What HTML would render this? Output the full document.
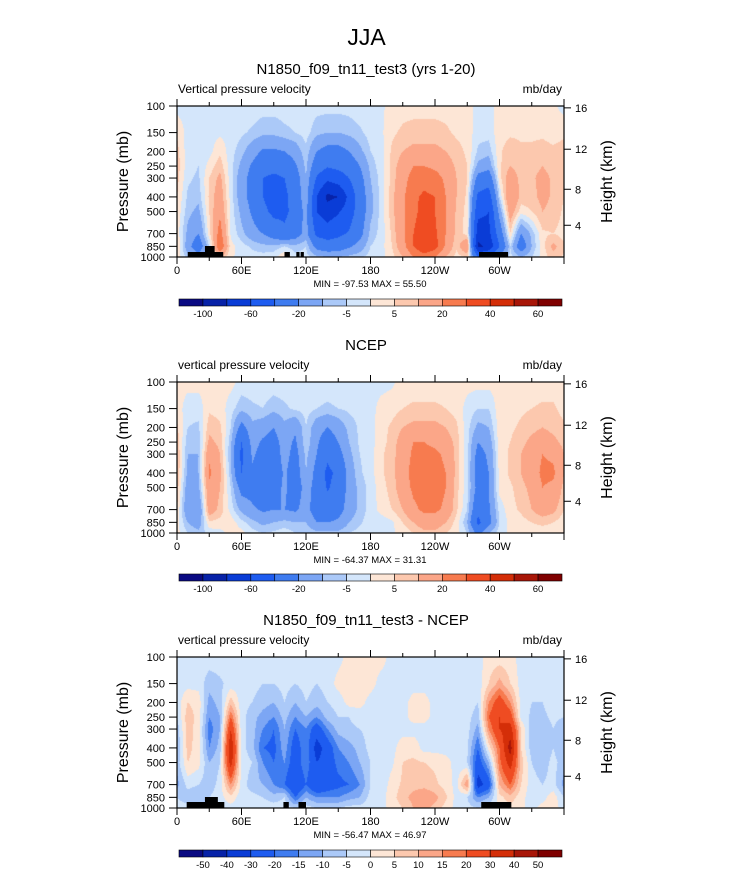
<!DOCTYPE html>
<html><head><meta charset="utf-8"><style>
body{margin:0;background:#fff;width:733px;height:873px;position:relative;overflow:hidden;font-family:"Liberation Sans",sans-serif;color:#000}
.t{position:absolute;white-space:nowrap}
canvas{position:absolute}
</style></head><body>
<div class="t" style="left:0;width:733px;text-align:center;top:24px;font-size:23px">JJA</div>
<svg id="svg" width="733" height="873" style="position:absolute;left:0;top:0"></svg>
<script>
const lons=[0,10,20,30,40,50,60,70,80,90,100,110,120,130,140,150,160,170,180,190,200,210,220,230,240,250,260,270,280,290,300,310,320,330,340,350];
const plevs=[100,150,200,250,300,400,500,700,850,1000];
const xTickLabels=["0","60E","120E","180","120W","60W"];
const heightTicks=[16,12,8,4];
const levels1=[-100,-80,-60,-40,-20,-10,-5,0,5,10,20,30,40,50,60];
const cbLabels1=["-100","","-60","","-20","","-5","","5","","20","","40","","60"];
const levels3=[-50,-40,-30,-20,-15,-10,-5,0,5,10,15,20,30,40,50];
const cbLabels3=["-50","-40","-30","-20","-15","-10","-5","0","5","10","15","20","30","40","50"];
const colors=["#0a0a82","#0722a8","#0a3cd6","#1e5cf0","#3f7cf0","#7ca6f4","#abc9f8","#d4e6fb","#fde6d6","#fcc8ae","#fba688","#f77b4f","#ef4c22","#d42e08","#a81608","#7f0000"];
const model=[
[-2,-2,-2,-2,-2,-2,-2,-2,-3,-3,-3,-3,-2,-3,-3,-3,-3,-2,-2,-1,2,3,3,3,3,3,2,2,-2,-2,2,2,2,2,2,1],
[4,-2,-2,-2,-1,-2,-4,-6,-8,-8,-6,-5,-3,-8,-10,-10,-8,-6,-3,-1,4,6,7,7,7,6,4,3,-3,-3,3,4,4,4,4,3],
[7,-3,-4,-2,4,-3,-8,-15,-22,-22,-20,-15,-6,-20,-25,-25,-20,-12,-5,-2,6,10,12,12,12,10,7,4,-6,-8,4,8,6,6,7,6],
[8,-3,-5,2,8,-3,-12,-22,-30,-32,-30,-22,-8,-30,-38,-35,-30,-20,-8,-2,7,14,20,20,18,14,9,5,-12,-15,4,10,7,8,10,8],
[7,-4,-6,5,12,-3,-15,-25,-40,-45,-40,-28,-10,-42,-55,-50,-40,-25,-10,-3,7,16,24,26,24,18,10,5,-25,-30,3,15,8,9,12,9],
[5,-6,-8,6,15,-2,-15,-25,-40,-50,-45,-30,-12,-60,-85,-80,-55,-30,-12,-3,8,18,28,32,30,20,10,4,-45,-50,-5,20,8,8,12,9],
[4,-8,-12,5,18,-2,-12,-22,-35,-45,-45,-32,-15,-60,-70,-62,-50,-30,-12,-3,8,18,28,33,30,20,9,3,-55,-60,-15,15,2,5,10,8],
[3,-12,-20,3,25,-1,-8,-15,-20,-28,-35,-28,-15,-45,-50,-45,-38,-25,-8,-3,6,18,30,35,32,20,8,3,-70,-65,-30,5,-20,-8,4,5],
[6,-15,-30,-5,30,2,-3,-6,-8,-8,-5,-8,-5,-25,-30,-28,-22,-15,-5,-2,5,16,30,40,35,18,6,20,-85,-75,-40,-5,-30,-10,3,12],
[4,-8,-15,-5,10,1,-2,-3,-3,-2,5,-3,-3,-8,-10,-10,-8,-6,-3,-2,3,10,20,25,20,10,3,5,-40,-35,-15,-3,-10,-5,2,8]];
const ncep=[
[2,2,2,2,2,2,-2,-2,-2,-2,-2,-2,-2,-2,-2,-2,-2,-2,-2,-2,-1,2,2,2,2,2,2,2,2,2,2,2,2,2,2,2],
[3,-3,-3,4,3,-3,-8,-6,-5,-8,-6,-4,-3,-5,-6,-5,-4,-3,-2,2,3,5,6,6,6,5,3,-2,-5,-5,3,3,4,5,6,6],
[6,-5,-6,8,6,-5,-25,-12,-15,-20,-12,-18,-5,-15,-20,-15,-8,-4,-2,3,6,10,12,12,12,10,6,-3,-12,-10,3,4,6,8,10,8],
[8,-8,-8,12,8,-8,-40,-15,-22,-25,-15,-22,-5,-18,-28,-20,-10,-4,-2,3,7,14,20,20,18,14,8,-3,-20,-15,3,5,8,12,15,12],
[10,-10,-10,18,10,-10,-45,-18,-25,-28,-15,-25,-8,-20,-35,-25,-12,-5,-2,4,8,14,22,22,22,18,8,-3,-25,-18,2,6,10,15,20,18],
[10,-12,-10,22,12,-8,-40,-22,-28,-30,-18,-28,-10,-25,-45,-35,-15,-6,-2,4,8,15,24,25,25,20,8,-3,-28,-20,2,6,10,15,22,22],
[8,-15,-12,18,10,-5,-25,-25,-28,-25,-18,-28,-15,-25,-42,-32,-15,-8,-3,3,7,15,22,24,25,20,7,-3,-25,-20,2,4,8,12,20,18],
[5,-18,-20,15,8,-2,-12,-18,-22,-20,-20,-22,-15,-28,-30,-25,-15,-8,-3,2,5,10,18,22,22,18,6,-5,-35,-22,-3,3,6,10,15,12],
[2,-10,-15,4,3,3,-3,-8,-12,-10,-8,-10,-10,-20,-20,-18,-10,-6,-2,-3,-1,5,10,15,15,10,3,-10,-45,-25,-5,2,3,5,6,5],
[2,-5,-8,-3,-2,2,2,-3,-5,-4,-2,-5,-5,-8,-8,-8,-5,-3,-2,-2,-1,2,5,8,8,5,2,-5,-25,-10,-2,1,2,3,3,3]];
const diff=[
[-2,-2,-2,-2,-2,-2,-2,-2,-2,-2,-2,-2,-2,-2,-2,-2,2,2,2,2,-2,-2,-2,-2,-2,-2,-2,-2,-2,2,2,2,-2,-2,-2,-2],
[-3,-2,-2,-8,-6,-3,-2,-3,-5,-5,-3,-5,-3,-5,-3,2,3,3,2,-2,-2,-2,-2,-2,-2,-2,-2,-2,-3,5,12,5,-2,-4,-4,-3],
[-3,5,3,-12,-8,8,-3,-5,-8,-10,-5,-10,-5,-8,-5,-3,2,2,-2,-3,-2,-2,2,2,-2,-2,-2,-2,-5,15,25,15,-2,-5,-5,-3],
[-5,8,3,-15,-10,20,-3,-8,-12,-15,-8,-15,-10,-15,-8,-5,-5,-3,-3,-3,-2,-2,2,2,-2,-2,-2,-3,-8,20,30,25,-2,-6,-6,-4],
[-8,8,2,-18,-10,30,-3,-8,-15,-20,-10,-20,-15,-25,-15,-8,-6,-5,-3,-3,-2,-2,-2,-2,-2,-2,-2,-3,-12,15,30,35,5,-8,-8,-5],
[-10,7,2,-15,-8,40,-3,-8,-20,-22,-12,-25,-15,-35,-25,-15,-12,-8,-3,-3,-2,3,3,-2,-2,-2,-2,-4,-20,2,20,45,5,-8,-10,-5],
[-8,5,2,-10,-5,35,-2,-5,-15,-20,-15,-25,-15,-30,-25,-18,-15,-10,-5,-3,-1,5,6,5,4,2,-2,-5,-25,-10,18,35,8,-5,-8,-3],
[-12,-3,-5,-8,-3,15,-2,-8,-10,-15,-20,-30,-20,-30,-25,-22,-20,-15,-5,-3,2,6,8,8,6,3,-2,15,-35,-25,10,20,5,-3,-5,-3],
[-5,-8,-10,-5,-2,3,-3,-3,-5,-8,-5,-20,-10,-15,-15,-15,-12,-10,-3,-2,3,8,12,15,12,6,-2,-5,-15,-10,3,8,2,-3,-2,3],
[-3,-3,-3,-2,-2,-2,-2,-2,-2,-2,-2,-5,-3,-5,-5,-5,-3,-3,-2,-2,2,5,10,12,8,3,-2,-3,-5,-3,2,3,1,-2,2,3]];

const X0=177,PW=387,PH=151;
const NS='http://www.w3.org/2000/svg';
const svg=document.getElementById('svg');
function el(tag,attrs,parent){const e=document.createElementNS(NS,tag);for(const k in attrs)e.setAttribute(k,attrs[k]);(parent||svg).appendChild(e);return e;}
function txt(x,y,s,size,anchor,parent){const t=el('text',{x:x,y:y,'font-size':size,'text-anchor':anchor||'middle','font-family':'Liberation Sans, sans-serif'},parent);t.textContent=s;return t;}
const xScale=lon=>X0+lon/360*PW;
const yScale=(p,top)=>top+Math.log(p/100)/Math.log(10)*PH;
function kmToP(h){return h<=11?1013.25*Math.pow(1-2.2558e-5*h*1000,5.2559):226.32*Math.exp(-(h-11)/6.3416);}
const lp=plevs.map(p=>Math.log(p));
function colorFor(v,lev){let i=0;while(i<lev.length&&v>=lev[i])i++;return colors[i];}
function sample(data,lon,p){
  let cf=lon/10;const i0=Math.floor(cf)%36,i1=(i0+1)%36,fx=cf-Math.floor(cf);
  const l=Math.log(p);let j=0;while(j<plevs.length-2&&l>lp[j+1])j++;
  let fy=(l-lp[j])/(lp[j+1]-lp[j]);fy=Math.max(0,Math.min(1,fy));
  const a=data[j][i0]*(1-fx)+data[j][i1]*fx,b=data[j+1][i0]*(1-fx)+data[j+1][i1]*fx;
  return a*(1-fy)+b*fy;
}
function panel(top,title,lt,data,lev,cbl,mm,land,cbTop,name){
  const g=el('g',{});
  
  
  const c=document.createElement('canvas');c.width=PW;c.height=PH;c.style.left=X0+'px';c.style.top=top+'px';
  
  
  document.body.insertBefore(c,svg);
  const ctx=c.getContext('2d');
  for(let py=0;py<PH;py++){const p=100*Math.pow(10,(py+0.5)/PH);
    for(let px=0;px<PW;px++){const lon=(px+0.5)/PW*360;ctx.fillStyle=colorFor(sample(data,lon,p),lev);ctx.fillRect(px,py,1,1);}}
  for(const r of land){const b=el('rect',{x:xScale(r[0]),y:top+PH-r[2],width:xScale(r[1])-xScale(r[0]),height:r[2],fill:'#000'},g);
    }
  const fr=el('rect',{x:X0,y:top,width:PW,height:PH,fill:'none',stroke:'#000','stroke-width':1.2},g);
  
  const t=txt(366,top-32,title,15,'middle',g);
  const l=txt(X0+1,top-13,lt,12,'start',g);
  const u=txt(X0+PW-2,top-13,'mb/day',12,'end',g);
  plevs.forEach(p=>{const y=yScale(p,top);el('line',{x1:X0-8,x2:X0,y1:y,y2:y,stroke:'#000'},g);
    const tl=txt(X0-12,y+4,String(p),11,'end',g);});
  heightTicks.forEach(h=>{const y=yScale(kmToP(h),top);el('line',{x1:X0+PW,x2:X0+PW+7,y1:y,y2:y,stroke:'#000'},g);
    const tl=txt(X0+PW+11,y+4,String(h),11,'start',g);});
  for(let lon=0;lon<=360;lon+=30){const x=xScale(lon);el('line',{x1:x,x2:x,y1:top+PH,y2:top+PH+(lon%60?4:7),stroke:'#000'},g);el('line',{x1:x,x2:x,y1:top,y2:top-(lon%60?4:7),stroke:'#000'},g);}
  xTickLabels.forEach((s,i)=>{const tl=txt(xScale(i*60),top+PH+17,s,11,'middle',g);});
  const m=txt(370,top+PH+30,mm,9.5,'middle',g);
  const ya=txt(0,0,'Pressure (mb)',16,'middle',g);ya.setAttribute('transform',`translate(128,${top+PH/2}) rotate(-90)`);
  const ha=txt(0,0,'Height (km)',16,'middle',g);ha.setAttribute('transform',`translate(612,${top+PH/2}) rotate(-90)`);
  const bw=383/16;
  colors.forEach((col,i)=>{const b=el('rect',{x:179+i*bw,y:cbTop,width:bw,height:7,fill:col,stroke:'#000','stroke-width':0.6},g);
    });
  cbl.forEach((s,i)=>{if(!s)return;const tl=txt(179+(i+1)*bw,cbTop+18,s,9.5,'middle',g);});
}
const landA=[[10,43,5],[26,35,11],[100,105,5],[111,114,5],[115,118,5],[281,308,5]];
const landC=[[9,44,6],[26,38,11],[99,104,6],[113,120,6],[283,311,6]];
panel(106,'N1850_f09_tn11_test3 (yrs 1-20)','Vertical pressure velocity',model,levels1,cbLabels1,'MIN = -97.53  MAX =  55.50',landA,299,'model-panel');
panel(382,'NCEP','vertical pressure velocity',ncep,levels1,cbLabels1,'MIN = -64.37  MAX =  31.31',[],574,'ncep-panel');
panel(657,'N1850_f09_tn11_test3 - NCEP','vertical pressure velocity',diff,levels3,cbLabels3,'MIN = -56.47  MAX =  46.97',landC,850,'difference-panel');
</script>
</body></html>
